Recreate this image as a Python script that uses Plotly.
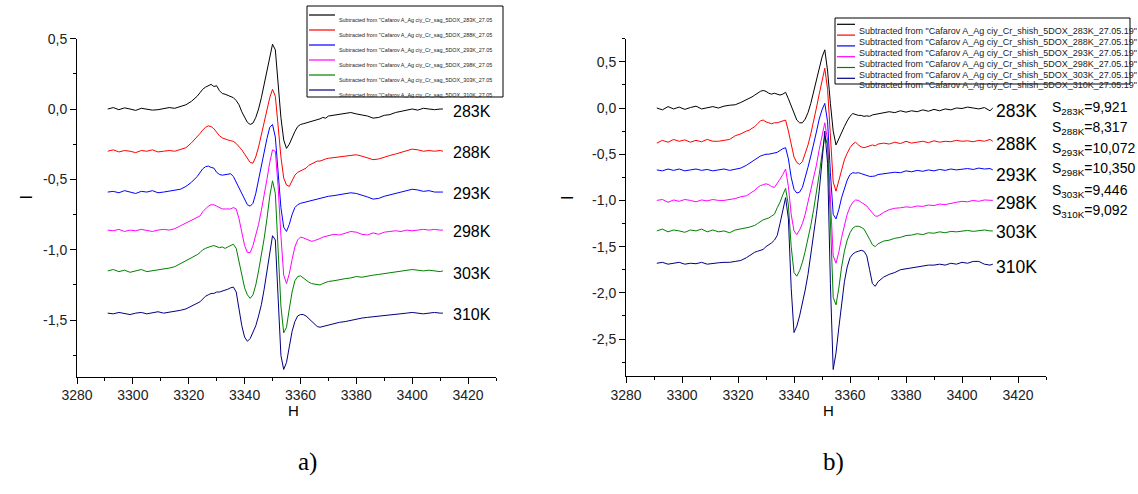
import plotly.graph_objects as go

W, Hpx = 1138, 494

# Magnetic field grid (G)
H = [3291, 3293, 3295, 3297, 3299, 3301, 3303, 3305, 3307, 3309, 3311, 3313, 3315, 3317, 3319, 3321, 3323,
     3324, 3325, 3326, 3327, 3328, 3329, 3330, 3331, 3332, 3333, 3334, 3335, 3336, 3337, 3338, 3339, 3340,
     3341, 3342, 3343, 3344, 3345, 3346, 3347, 3348, 3349, 3350, 3351, 3352, 3353, 3354, 3355, 3356, 3357,
     3358, 3359, 3360, 3361, 3362, 3363, 3364, 3365, 3366, 3367, 3368, 3369, 3370,
     3372, 3374, 3376, 3378, 3380, 3382, 3384, 3386, 3388, 3390, 3392, 3394, 3396, 3398, 3400, 3402, 3404,
     3406, 3408, 3410, 3411]

# Panel a) spectra
A_283 = [0.0, 0.01, -0.005, 0.008, 0.0, -0.01, 0.005, 0.0, -0.008, -0.005, 0.0, 0.01, 0.005, 0.02, 0.03, 0.055, 0.09,
         0.115, 0.14, 0.155, 0.165, 0.175, 0.16, 0.165, 0.13, 0.11, 0.105,
         0.095, 0.09, 0.08, 0.06, 0.03, -0.02, -0.06, -0.095, -0.11, -0.1,
         -0.06, 0.0, 0.08, 0.17, 0.26, 0.36, 0.46, 0.42, 0.18, -0.06,
         -0.22, -0.28, -0.25, -0.2, -0.16, -0.125, -0.11, -0.105, -0.1, -0.09,
         -0.085, -0.08, -0.075, -0.07, -0.06, -0.065, -0.05,
         -0.045, -0.035, -0.03, -0.025, -0.035, -0.04, -0.05, -0.065, -0.06, -0.045, -0.04, -0.025, -0.015,
         -0.005, 0.0, -0.008, 0.005, 0.0, -0.005, 0.0, 0.0]
A_288 = [-0.3, -0.29, -0.305, -0.295, -0.3, -0.31, -0.295, -0.3, -0.29, -0.305, -0.3, -0.295, -0.3, -0.29, -0.275, -0.24, -0.2,
         -0.175, -0.15, -0.13, -0.12, -0.125, -0.14, -0.165, -0.19, -0.205, -0.215,
         -0.22, -0.225, -0.23, -0.245, -0.265, -0.29, -0.32, -0.35, -0.38, -0.385,
         -0.34, -0.27, -0.18, -0.09, -0.01, 0.08, 0.14, 0.09, -0.12, -0.34,
         -0.49, -0.54, -0.55, -0.51, -0.47, -0.45, -0.44, -0.43, -0.42, -0.4,
         -0.39, -0.38, -0.37, -0.37, -0.36, -0.355, -0.35,
         -0.345, -0.34, -0.335, -0.33, -0.325, -0.335, -0.345, -0.36, -0.355, -0.34, -0.33, -0.32, -0.31,
         -0.3, -0.285, -0.29, -0.3, -0.295, -0.3, -0.295, -0.3]
A_293 = [-0.59, -0.585, -0.595, -0.58, -0.59, -0.6, -0.585, -0.59, -0.58, -0.595, -0.59, -0.585, -0.58, -0.57, -0.55, -0.52, -0.48,
         -0.45, -0.425, -0.41, -0.405, -0.415, -0.42, -0.45, -0.465, -0.47, -0.465,
         -0.46, -0.46, -0.48, -0.52, -0.56, -0.6, -0.64, -0.68, -0.69, -0.67,
         -0.6, -0.5, -0.4, -0.3, -0.21, -0.13, -0.11, -0.2, -0.45, -0.7,
         -0.84, -0.87, -0.82, -0.75, -0.7, -0.68, -0.67, -0.665, -0.66, -0.655,
         -0.65, -0.645, -0.64, -0.635, -0.63, -0.625, -0.62,
         -0.615, -0.61, -0.6, -0.595, -0.6, -0.61, -0.625, -0.64, -0.635, -0.62, -0.61, -0.6, -0.59,
         -0.58, -0.57, -0.575, -0.585, -0.58, -0.59, -0.59, -0.59]
A_298 = [-0.86, -0.865, -0.855, -0.87, -0.86, -0.865, -0.855, -0.86, -0.87, -0.86, -0.855, -0.86, -0.85, -0.83, -0.81, -0.79, -0.77,
         -0.76, -0.73, -0.71, -0.69, -0.68, -0.68, -0.69, -0.7, -0.71, -0.71,
         -0.71, -0.71, -0.7, -0.71, -0.78, -0.88, -0.97, -1.02, -1.02, -0.97,
         -0.9, -0.82, -0.72, -0.62, -0.5, -0.38, -0.29, -0.3, -0.55, -0.9,
         -1.18, -1.24, -1.17, -1.07, -0.98, -0.93, -0.91, -0.915, -0.925, -0.935,
         -0.94, -0.935, -0.93, -0.92, -0.91, -0.905, -0.9,
         -0.89, -0.895, -0.885, -0.87, -0.875, -0.89, -0.895, -0.88, -0.89, -0.875, -0.87, -0.865, -0.87,
         -0.86, -0.865, -0.86, -0.855, -0.86, -0.855, -0.86, -0.86]
A_303 = [-1.15, -1.14, -1.155, -1.145, -1.16, -1.15, -1.14, -1.155, -1.15, -1.145, -1.14, -1.13, -1.12, -1.1, -1.08, -1.06, -1.035,
         -1.02, -1.0, -0.99, -0.98, -0.975, -0.97, -0.98, -0.985, -0.98, -0.99,
         -0.98, -0.97, -0.96, -0.99, -1.08, -1.18, -1.27, -1.32, -1.345, -1.32,
         -1.25, -1.15, -1.04, -0.92, -0.78, -0.62, -0.51, -0.6, -1.0, -1.4,
         -1.59, -1.55, -1.42, -1.3, -1.22, -1.19, -1.185, -1.2, -1.22, -1.23,
         -1.24, -1.245, -1.25, -1.25, -1.24, -1.23, -1.225,
         -1.22, -1.21, -1.205, -1.2, -1.19, -1.195, -1.185, -1.18, -1.175, -1.17, -1.16, -1.155, -1.15,
         -1.145, -1.14, -1.145, -1.15, -1.145, -1.15, -1.155, -1.15]
A_310 = [-1.45, -1.455, -1.445, -1.45, -1.46, -1.45, -1.445, -1.455, -1.45, -1.44, -1.45, -1.445, -1.44, -1.43, -1.42, -1.4, -1.38,
         -1.37, -1.35, -1.33, -1.32, -1.31, -1.31, -1.3, -1.3, -1.295, -1.29,
         -1.28, -1.27, -1.265, -1.3, -1.42, -1.54, -1.62, -1.65, -1.63, -1.59,
         -1.54, -1.47, -1.39, -1.28, -1.16, -1.02, -0.9, -0.93, -1.35, -1.75,
         -1.85, -1.8, -1.69, -1.58, -1.51, -1.47, -1.46, -1.46, -1.47, -1.49,
         -1.51, -1.53, -1.545, -1.55, -1.545, -1.54, -1.53,
         -1.52, -1.515, -1.51, -1.5, -1.49, -1.485, -1.48, -1.475, -1.47, -1.465, -1.46, -1.46, -1.455,
         -1.45, -1.445, -1.45, -1.455, -1.45, -1.445, -1.45, -1.45]

# Panel b) spectra
B_283 = [0.0, -0.02, 0.015, -0.01, 0.01, -0.015, 0.005, 0.02, -0.01, 0.0, 0.015, 0.0, 0.02, 0.03, 0.035, 0.06, 0.09,
         0.1, 0.12, 0.14, 0.16, 0.18, 0.19, 0.18, 0.16, 0.15, 0.16,
         0.15, 0.14, 0.15, 0.17, 0.1, 0.02, -0.06, -0.13, -0.16, -0.16,
         -0.12, -0.05, 0.05, 0.17, 0.3, 0.42, 0.55, 0.63, 0.4, 0.05,
         -0.25, -0.4, -0.33, -0.25, -0.2, -0.14, -0.09, -0.06, -0.07, -0.08,
         -0.08, -0.09, -0.085, -0.09, -0.075, -0.07, -0.06,
         -0.05, -0.04, -0.05, -0.03, -0.045, -0.03, -0.04, -0.02, -0.035, -0.015, -0.03, -0.01, -0.02,
         0.0, -0.005, 0.01, 0.0, -0.01, 0.005, -0.03, 0.0]
B_288 = [-0.38, -0.35, -0.37, -0.34, -0.36, -0.345, -0.37, -0.35, -0.365, -0.34, -0.36, -0.36, -0.35, -0.34, -0.3, -0.28, -0.25,
         -0.24, -0.22, -0.2, -0.17, -0.14, -0.13, -0.15, -0.16, -0.17, -0.16,
         -0.16, -0.15, -0.14, -0.13, -0.25, -0.4, -0.53, -0.59, -0.61, -0.58,
         -0.5, -0.4, -0.28, -0.15, 0.0, 0.15, 0.3, 0.43, 0.2, -0.3,
         -0.8, -0.9, -0.78, -0.66, -0.56, -0.49, -0.43, -0.39, -0.37, -0.4,
         -0.42, -0.43, -0.42, -0.41, -0.4, -0.41, -0.39,
         -0.38, -0.39, -0.37, -0.385, -0.36, -0.38, -0.37, -0.36, -0.375, -0.355, -0.37, -0.36, -0.365,
         -0.35, -0.36, -0.355, -0.365, -0.35, -0.36, -0.34, -0.36]
B_293 = [-0.67, -0.68, -0.66, -0.675, -0.66, -0.68, -0.67, -0.66, -0.675, -0.665, -0.68, -0.67, -0.66, -0.675, -0.665, -0.65, -0.62,
         -0.6, -0.58, -0.56, -0.54, -0.52, -0.51, -0.5, -0.5, -0.495, -0.49,
         -0.48, -0.46, -0.44, -0.43, -0.55, -0.75, -0.88, -0.92, -0.91, -0.86,
         -0.76, -0.64, -0.52, -0.4, -0.26, -0.12, -0.02, 0.05, -0.15, -0.7,
         -1.15, -1.2, -1.1, -0.97, -0.86, -0.78, -0.72, -0.7, -0.705, -0.7,
         -0.71, -0.72, -0.73, -0.74, -0.74, -0.735, -0.72,
         -0.71, -0.7, -0.695, -0.7, -0.68, -0.69, -0.675, -0.685, -0.67, -0.68, -0.665, -0.675, -0.66,
         -0.67, -0.665, -0.655, -0.665, -0.65, -0.66, -0.655, -0.67]
B_298 = [-1.0, -0.99, -1.02, -0.995, -1.01, -0.99, -1.0, -1.015, -0.995, -1.005, -0.99, -1.0, -1.0, -0.99, -0.98, -0.96, -0.95,
         -0.93, -0.91, -0.89, -0.86, -0.84, -0.83, -0.82, -0.83, -0.85, -0.86,
         -0.82, -0.77, -0.72, -0.66, -0.85, -1.15, -1.33, -1.37, -1.32, -1.25,
         -1.15, -1.02, -0.9, -0.76, -0.62, -0.45, -0.3, -0.16, -0.35, -1.05,
         -1.6, -1.68, -1.56, -1.4, -1.26, -1.15, -1.07, -1.02, -0.995, -1.0,
         -1.02, -1.04, -1.06, -1.1, -1.14, -1.17, -1.17,
         -1.13, -1.1, -1.085, -1.08, -1.07, -1.075, -1.06, -1.065, -1.05, -1.055, -1.04, -1.045, -1.03,
         -1.02, -1.01, -1.015, -1.0, -1.01, -0.995, -1.0, -1.0]
B_303 = [-1.33, -1.31, -1.34, -1.32, -1.33, -1.345, -1.32, -1.33, -1.31, -1.34, -1.32, -1.34, -1.33, -1.35, -1.32, -1.31, -1.3,
         -1.29, -1.28, -1.27, -1.25, -1.23, -1.21, -1.2, -1.19, -1.17, -1.15,
         -1.08, -1.02, -0.94, -0.87, -1.05, -1.5, -1.78, -1.82, -1.76, -1.67,
         -1.55, -1.42, -1.27, -1.1, -0.92, -0.72, -0.5, -0.3, -0.4, -1.3,
         -2.05, -2.13, -1.95, -1.72, -1.55, -1.43, -1.35, -1.3, -1.28, -1.28,
         -1.29, -1.31, -1.36, -1.42, -1.48, -1.5, -1.47,
         -1.44, -1.43, -1.41, -1.4, -1.38, -1.375, -1.36, -1.37, -1.35, -1.355, -1.34, -1.35, -1.335,
         -1.34, -1.33, -1.325, -1.335, -1.33, -1.32, -1.33, -1.33]
B_310 = [-1.68, -1.67, -1.69, -1.68, -1.67, -1.69, -1.68, -1.685, -1.67, -1.69, -1.68, -1.675, -1.67, -1.67, -1.66, -1.65, -1.62,
         -1.6, -1.58, -1.56, -1.55, -1.54, -1.53, -1.5, -1.48, -1.46, -1.43,
         -1.38, -1.25, -1.1, -0.97, -1.2, -1.95, -2.43, -2.36, -2.25, -2.12,
         -1.97, -1.8, -1.6, -1.38, -1.15, -0.9, -0.6, -0.25, -0.6, -1.9,
         -2.83, -2.65, -2.38, -2.1, -1.88, -1.72, -1.62, -1.58, -1.56, -1.55,
         -1.54, -1.55, -1.6, -1.75, -1.9, -1.93, -1.88,
         -1.83, -1.8, -1.78, -1.75, -1.74, -1.73, -1.72, -1.71, -1.7, -1.7, -1.69, -1.7, -1.68,
         -1.69, -1.67, -1.68, -1.66, -1.66, -1.69, -1.7, -1.69]

TEMPS = ["283K", "288K", "293K", "298K", "303K", "310K"]
COLORS = ["#000000", "#ff0000", "#0000ff", "#ff00ff", "#008000", "#000080"]
SERIES_A = [A_283, A_288, A_293, A_298, A_303, A_310]
SERIES_B = [B_283, B_288, B_293, B_298, B_303, B_310]
LABEL_Y_A = [-0.02, -0.31, -0.60, -0.87, -1.165, -1.46]
LABEL_Y_B = [-0.03, -0.39, -0.72, -1.03, -1.34, -1.72]
S_SUB = ["283K", "288K", "293K", "298K", "303K", "310K"]
S_VAL = ["9,921", "8,317", "10,072", "10,350", "9,446", "9,092"]
LEG_A = ['Subtracted from "Cafarov A_Ag ciy_Cr_sag_5DOX_%s_27.05' % t for t in TEMPS]
LEG_B = ['Subtracted from "Cafarov A_Ag ciy_Cr_shish_5DOX_%s_27.05.19"' % t for t in TEMPS]

XTICKS = [3280, 3300, 3320, 3340, 3360, 3380, 3400, 3420]
YTICKS_A = [0.5, 0.0, -0.5, -1.0, -1.5]
YTEXT_A = ["0,5", "0,0", "-0,5", "-1,0", "-1,5"]
YTICKS_B = [0.5, 0.0, -0.5, -1.0, -1.5, -2.0, -2.5]
YTEXT_B = ["0,5", "0,0", "-0,5", "-1,0", "-1,5", "-2,0", "-2,5"]

FONT = "Liberation Sans, Arial, sans-serif"

def px(x):
    return x / W

def py(y):
    return 1 - y / Hpx

fig = go.Figure()
for ys, c, t in zip(SERIES_A, COLORS, TEMPS):
    fig.add_trace(go.Scatter(x=H, y=ys, mode="lines", line=dict(color=c, width=1),
                             name=t, xaxis="x", yaxis="y"))
for ys, c, t in zip(SERIES_B, COLORS, TEMPS):
    fig.add_trace(go.Scatter(x=H, y=ys, mode="lines", line=dict(color=c, width=1),
                             name=t, xaxis="x2", yaxis="y2"))

axis_common = dict(showline=True, linecolor="black", linewidth=1, ticks="outside", ticklen=6,
                   tickcolor="black", showgrid=False, zeroline=False, mirror=False, automargin=False,
                   tickfont=dict(family=FONT, size=14, color="#222"))

fig.update_layout(
    template="none",
    width=W, height=Hpx, autosize=False, margin=dict(l=0, r=0, t=0, b=0, pad=0, autoexpand=False),
    paper_bgcolor="white", plot_bgcolor="white", showlegend=False,
    xaxis=dict(domain=[px(77), px(496)], range=[3280, 3430], tickmode="array", tickvals=XTICKS,
               minor=dict(ticks="outside", ticklen=3, tickcolor="black", tick0=3280, dtick=10),
               anchor="y", **axis_common),
    yaxis=dict(domain=[py(376.5), py(38.6)], range=[-1.9, 0.5], tickmode="array", tickvals=YTICKS_A,
               ticktext=YTEXT_A, minor=dict(ticks="outside", ticklen=3, tickcolor="black", tick0=0, dtick=0.25),
               anchor="x", **axis_common),
    xaxis2=dict(domain=[px(626), px(1046)], range=[3280, 3430], tickmode="array", tickvals=XTICKS,
                minor=dict(ticks="outside", ticklen=3, tickcolor="black", tick0=3280, dtick=10),
                anchor="y2", **axis_common),
    yaxis2=dict(domain=[py(376), py(38.7)], range=[-2.9, 0.75], tickmode="array", tickvals=YTICKS_B,
                ticktext=YTEXT_B, minor=dict(ticks="outside", ticklen=3, tickcolor="black", tick0=0, dtick=0.25),
                anchor="x2", **axis_common),
)

ann = []
shapes = []
# axis titles and panel labels
for cx, lab in [(286, "a)"), (836, "b)")]:
    ann.append(dict(x=px(cx), y=py(421), xref="paper", yref="paper", text="H", showarrow=False,
                    font=dict(family=FONT, size=15, color="black")))
    ann.append(dict(x=px(cx + 10), y=py(478), xref="paper", yref="paper", text=lab, showarrow=False,
                    font=dict(family="Liberation Serif, Times New Roman, serif", size=25, color="black")))
for cx in [15, 567]:
    ann.append(dict(x=px(cx), y=py(198), xref="paper", yref="paper", text="I", showarrow=False,
                    textangle=-90, font=dict(family=FONT, size=16, color="black")))

# temperature labels
for t, yv in zip(TEMPS, LABEL_Y_A):
    ann.append(dict(x=3414, y=yv, xref="x", yref="y", text=t, showarrow=False, xanchor="left",
                    font=dict(family=FONT, size=16, color="black")))
for t, yv in zip(TEMPS, LABEL_Y_B):
    ann.append(dict(x=3411.5, y=yv, xref="x2", yref="y2", text=t, showarrow=False, xanchor="left",
                    font=dict(family=FONT, size=17.5, color="black")))

# S values
S_ROWS = [108, 128.5, 149, 168.5, 190.5, 211]
for sub, val, ry in zip(S_SUB, S_VAL, S_ROWS):
    ann.append(dict(x=px(1050), y=py(ry), xref="paper", yref="paper", xanchor="left", yanchor="middle",
                    text="S<sub>%s</sub>=%s" % (sub, val), showarrow=False,
                    font=dict(family=FONT, size=14, color="black")))

# legend a)
shapes.append(dict(type="rect", xref="paper", yref="paper", x0=px(307), x1=px(503), y0=py(97), y1=py(6),
                   line=dict(color="black", width=1), fillcolor="white", layer="above"))
for i, (c, txt) in enumerate(zip(COLORS, LEG_A)):
    ry = 15 + i * 15
    shapes.append(dict(type="line", xref="paper", yref="paper", x0=px(309), x1=px(335), y0=py(ry), y1=py(ry),
                       line=dict(color=c, width=1.2), layer="above"))
    ann.append(dict(x=px(337), y=py(ry), xref="paper", yref="paper", xanchor="left", text=txt,
                    showarrow=False, font=dict(family=FONT, size=5.4, color="#222")))

# legend b)
shapes.append(dict(type="rect", xref="paper", yref="paper", x0=px(835), x1=px(1130), y0=py(84), y1=py(18),
                   line=dict(color="black", width=1), fillcolor="white", layer="above"))
for i, (c, txt) in enumerate(zip(COLORS, LEG_B)):
    ry = 24.3 + i * 10.8
    shapes.append(dict(type="line", xref="paper", yref="paper", x0=px(837), x1=px(855), y0=py(ry), y1=py(ry),
                       line=dict(color=c, width=1.2), layer="above"))
    ann.append(dict(x=px(857), y=py(ry), xref="paper", yref="paper", xanchor="left", text=txt,
                    showarrow=False, font=dict(family=FONT, size=9, color="#222")))

fig.update_layout(annotations=ann, shapes=shapes)
fig.write_html("out.html",
               post_script="document.body.style.margin='0px';document.documentElement.style.margin='0px';")
